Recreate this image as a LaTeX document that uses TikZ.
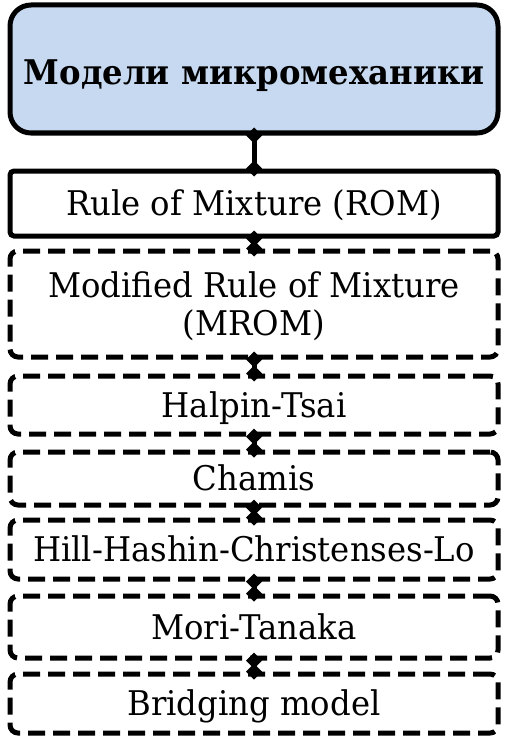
\documentclass[tikz,border=0pt]{standalone}
\usepackage{fontspec}
\setmainfont{DejaVu Serif}[FakeStretch=0.95]
\usetikzlibrary{arrows.meta}
\definecolor{headblue}{RGB}{198,217,240}
\tikzset{
  box/.style={draw=black, line width=5pt, minimum width=488pt, inner sep=0pt,
    text height=24.5pt, text depth=0pt, align=center,
    font=\fontsize{34}{38}\selectfont},
  headbox/.style={box, fill=headblue, rounded corners=21pt, text height=31pt,
    font=\fontsize{34}{38}\selectfont\bfseries},
  solidbox/.style={box, rounded corners=4pt},
  dashbox/.style={box, rounded corners=8pt, dash pattern=on 17pt off 8pt},
  link/.style={line width=5pt, {Diamond[length=16pt,width=16pt]}-{Diamond[length=16pt,width=16pt]},
    shorten <=-8pt, shorten >=-8pt}
}
\begin{document}
\begin{tikzpicture}[x=1pt,y=-1pt]
\useasboundingbox (0,0) rectangle (510,741);
\node[headbox, minimum height=128pt] (head) at (254,69) {Модели микромеханики};
\node[solidbox, minimum height=65pt] (rom) at (254,203.5) {Rule of Mixture (ROM)};
\node[dashbox, minimum height=106pt, text height=62.5pt] (mrom) at (254,304) {Modified Rule of Mixture\\(MROM)};
\node[dashbox, minimum height=58pt] (ht) at (254,405) {Halpin-Tsai};
\node[dashbox, minimum height=53pt] (ch) at (254,478.5) {Chamis};
\node[dashbox, minimum height=59pt] (hh) at (254,549.5) {Hill-Hashin-Christenses-Lo};
\node[dashbox, minimum height=62pt] (mt) at (254,627) {Mori-Tanaka};
\node[dashbox, minimum height=59pt] (bm) at (254,703.5) {Bridging model};
\draw[link] (head.south) -- (rom.north);
\draw[link] (rom.south) -- (mrom.north);
\draw[link] (mrom.south) -- (ht.north);
\draw[link] (ht.south) -- (ch.north);
\draw[link] (ch.south) -- (hh.north);
\draw[link] (hh.south) -- (mt.north);
\draw[link] (mt.south) -- (bm.north);
\end{tikzpicture}
\end{document}
